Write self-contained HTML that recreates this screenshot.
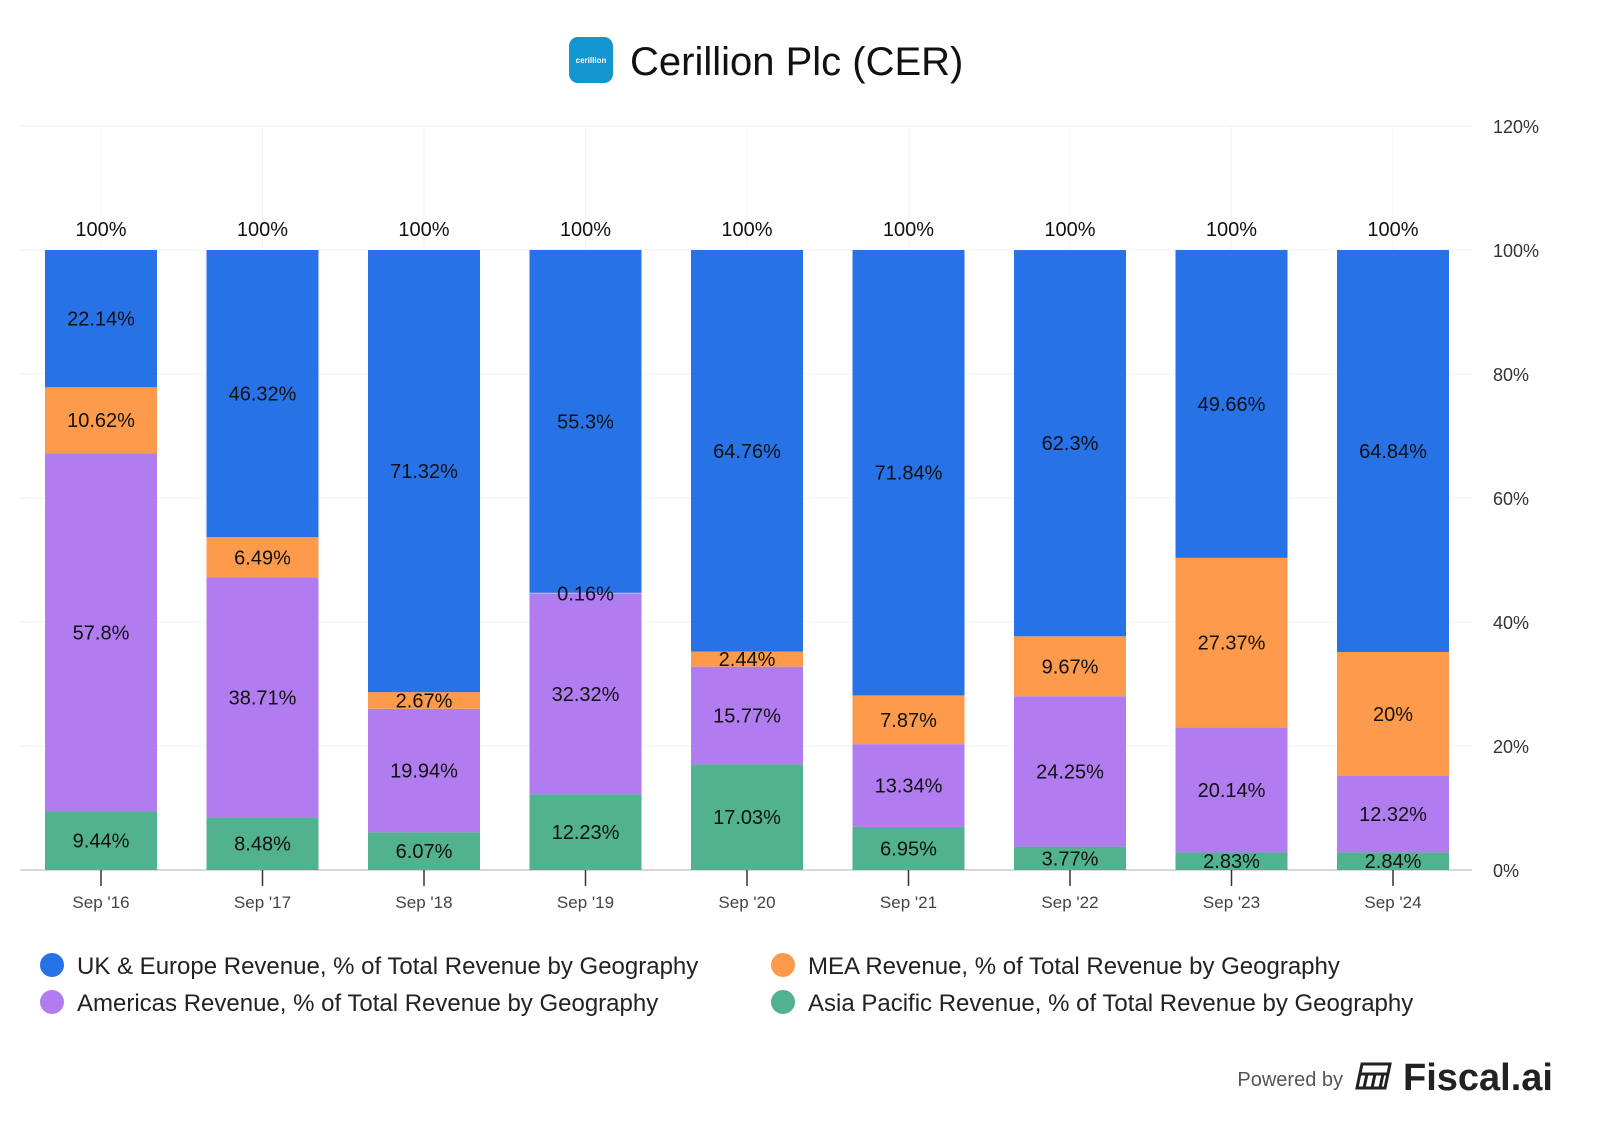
<!DOCTYPE html>
<html><head><meta charset="utf-8"><style>
body{margin:0;background:#fff;font-family:"Liberation Sans",Arial,sans-serif}
svg text{font-family:"Liberation Sans",Arial,sans-serif}
</style></head><body>
<svg id="c" width="1600" height="1133" xmlns="http://www.w3.org/2000/svg">
<g>
<rect x="569" y="37" width="44" height="46" rx="9" fill="#1396cf"/>
<text x="591" y="63" font-size="8" font-weight="bold" fill="#fff" text-anchor="middle">cerillion</text>
<text x="630" y="75" font-size="40" fill="#111">Cerillion Plc (CER)</text>
</g>
<g id="grid"></g><g id="bars"></g><g id="labels"></g>
<g>
<circle cx="52" cy="965" r="12" fill="#2872e8"/><text x="77" y="974" font-size="24" fill="#222">UK &amp; Europe Revenue, % of Total Revenue by Geography</text>
<circle cx="783" cy="965" r="12" fill="#fd9a4b"/><text x="808" y="974" font-size="24" fill="#222">MEA Revenue, % of Total Revenue by Geography</text>
<circle cx="52" cy="1002" r="12" fill="#b07cf0"/><text x="77" y="1011" font-size="24" fill="#222">Americas Revenue, % of Total Revenue by Geography</text>
<circle cx="783" cy="1002" r="12" fill="#52b18e"/><text x="808" y="1011" font-size="24" fill="#222">Asia Pacific Revenue, % of Total Revenue by Geography</text>
</g>
<g>
<text x="1343" y="1086" font-size="20" fill="#555" text-anchor="end">Powered by</text>
<g fill="none" stroke="#222" stroke-width="3"><path d="M1362 1064h28l-5 24h-28z M1360 1074h28 M1367 1074l-3 14 M1375 1074l-3 14 M1383 1074l-3 14"/></g>
<text x="1403" y="1090" font-size="38" fill="#222" font-weight="bold">Fiscal.ai</text>
</g>
</svg>
<script>
const categories=["Sep '16","Sep '17","Sep '18","Sep '19","Sep '20","Sep '21","Sep '22","Sep '23","Sep '24"];
const asiaPacific=[9.44,8.48,6.07,12.23,17.03,6.95,3.77,2.83,2.84];
const americas=[57.8,38.71,19.94,32.32,15.77,13.34,24.25,20.14,12.32];
const mea=[10.62,6.49,2.67,0.16,2.44,7.87,9.67,27.37,20];
const ukEurope=[22.14,46.32,71.32,55.3,64.76,71.84,62.3,49.66,64.84];
const totals=[100,100,100,100,100,100,100,100,100];
const yTicks=[0,20,40,60,80,100,120];
const NS="http://www.w3.org/2000/svg";
const y=v=>870-v*6.2;
const x=i=>101+i*161.5;
const bw=112;
function mk(t,a,p){const e=document.createElementNS(NS,t);for(const k in a)e.setAttribute(k,a[k]);p.appendChild(e);return e;}
const grid=document.getElementById('grid'),bars=document.getElementById('bars'),labels=document.getElementById('labels');
yTicks.forEach(v=>{
 const l=mk('line',{x1:20,x2:1472,y1:y(v),y2:y(v),stroke:v===0?'#ccc':'#f0f0f0','stroke-width':v===0?1.5:1},grid);
 
 
 const t=mk('text',{x:1493,y:y(v)+7,'font-size':18,fill:'#333'},grid);t.textContent=v+'%';
 
 
});
categories.forEach((c,i)=>{
 const vl=mk('line',{x1:x(i),x2:x(i),y1:126,y2:870,stroke:'#f3f3f3'},grid);
 
 
 const tk=mk('line',{x1:x(i),x2:x(i),y1:870,y2:886,stroke:'#333','stroke-width':1.5},grid);
 
 
 const t=mk('text',{x:x(i),y:908,'font-size':17,fill:'#444','text-anchor':'middle'},grid);t.textContent=c;
 
 
 const series=[[asiaPacific,'#52b18e','asia-pacific'],[americas,'#b07cf0','americas'],[mea,'#fd9a4b','mea'],[ukEurope,'#2872e8','uk-europe']];
 let base=0;
 series.forEach(([arr,col,nm])=>{
  const v=arr[i];
  const r=mk('rect',{x:x(i)-bw/2,y:y(base+v),width:bw,height:v*6.2,fill:col},bars);
  
  
  const t=mk('text',{x:x(i),y:y(base+v/2)+7,'font-size':20,fill:'#111','text-anchor':'middle'},labels);
  t.textContent=v+'%';
  
  
  base+=v;
 });
 const tt=mk('text',{x:x(i),y:y(totals[i])-14,'font-size':20,fill:'#111','text-anchor':'middle'},labels);
 tt.textContent=totals[i]+'%';
 
 
});
</script>
</body></html>
